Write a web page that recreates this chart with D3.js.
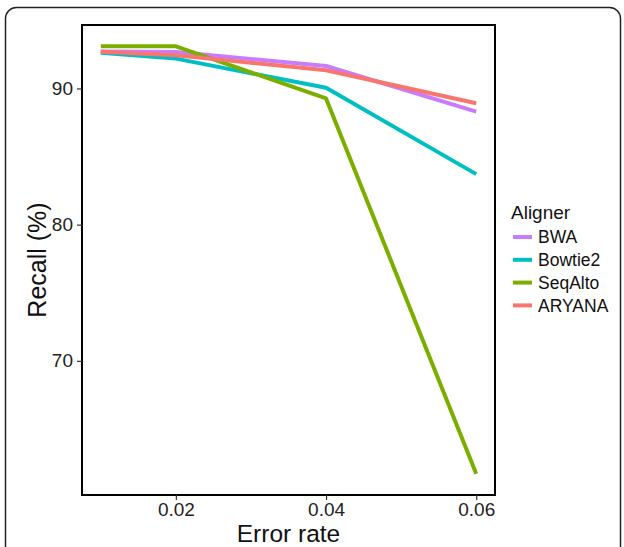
<!DOCTYPE html>
<meta charset="utf-8">
<style>
  body { margin: 0; background: #fff; }
  text { font-family: "Liberation Sans", Arial, sans-serif; }
</style>
<svg width="624" height="547"></svg>
<script src="https://cdn.jsdelivr.net/npm/d3@7"></script>
<script>
    // data
    var errorRates = [0.01, 0.02, 0.04, 0.06];
    var aligners = ['BWA', 'Bowtie2', 'SeqAlto', 'ARYANA'];
    var bwa = [92.72, 92.67, 91.65, 88.30];
    var bowtie2 = [92.62, 92.19, 90.05, 83.71];
    var seqalto = [93.09, 93.09, 89.27, 61.72];
    var aryana = [92.70, 92.43, 91.34, 88.91];
    var colors = ['#C77CFF', '#00BFC4', '#7CAE00', '#F8766D'];
    var xTicks = [0.02, 0.04, 0.06];
    var yTicks = [70, 80, 90];

    var series = [bwa, bowtie2, seqalto, aryana].map(function (v, i) {
        return {
            key: aligners[i],
            values: v.map(function (y, j) { return { x: errorRates[j], y: y }; })
        };
    });

    var svgElem = d3.select('svg');
    var margin = { left: 82, top: 25, right: 129, bottom: 52 };
    var width = +svgElem.attr('width') - margin.left - margin.right;
    var height = +svgElem.attr('height') - margin.top - margin.bottom;

    // outer rounded frame
    svgElem.append('rect')
        .attr('x', 5.5).attr('y', 7.5)
        .attr('width', 615).attr('height', 560)
        .attr('rx', 11)
        .attr('fill', 'none')
        .attr('stroke', '#222')
        .attr('stroke-width', 1.5);

    var g = svgElem.append('g')
        .attr('transform', `translate(${margin.left}, ${margin.top})`);

    // ggplot style 5% expansion
    function expand(ext) {
        var d = (ext[1] - ext[0]) * 0.05;
        return [ext[0] - d, ext[1] + d];
    }
    var allY = [].concat(bwa, bowtie2, seqalto, aryana);
    var x = d3.scaleLinear().domain(expand(d3.extent(errorRates))).range([0, width]);
    var y = d3.scaleLinear().domain(expand(d3.extent(allY))).range([height, 0]);
    var z = d3.scaleOrdinal().domain(aligners).range(colors);

    var line = d3.line()
        .x(function (d) { return x(d.x); })
        .y(function (d) { return y(d.y); });

    g.selectAll('.line')
        .data(series)
        .enter()
        .append('path')
        .attr('class', 'line')
        .attr('fill', 'none')
        .attr('stroke', function (d) { return z(d.key); })
        .attr('stroke-width', 4)
        .attr('stroke-linejoin', 'round')
        .attr('d', function (d) { return line(d.values); });

    // panel border
    g.append('rect')
        .attr('width', width).attr('height', height)
        .attr('fill', 'none')
        .attr('stroke', '#000')
        .attr('stroke-width', 2);

    var xAxis = g.append('g')
        .attr('transform', `translate(0, ${height})`)
        .call(d3.axisBottom(x).tickValues(xTicks).tickSize(5).tickPadding(3).tickFormat(d3.format('.2f')));
    var yAxis = g.append('g')
        .call(d3.axisLeft(y).tickValues(yTicks).tickSize(5).tickPadding(4));
    [xAxis, yAxis].forEach(function (a) {
        a.select('.domain').remove();
        a.selectAll('line').attr('stroke', '#333').attr('stroke-width', 1.2);
        a.selectAll('text')
            .attr('fill', '#222')
            .style('font-size', '19px')
            .style('font-family', '"Liberation Sans", Arial, sans-serif');
    });

    // axis titles
    svgElem.append('text')
        .attr('x', margin.left + width / 2)
        .attr('y', 541.5)
        .attr('text-anchor', 'middle')
        .style('font-size', '24.5px')
        .attr('fill', '#111')
        .text('Error rate');
    svgElem.append('text')
        .attr('transform', `translate(46, ${margin.top + height / 2}) rotate(-90)`)
        .attr('text-anchor', 'middle')
        .style('font-size', '25px')
        .attr('fill', '#111')
        .text('Recall (%)');

    // legend
    var legend = svgElem.append('g').attr('transform', 'translate(511, 0)');
    legend.append('text')
        .attr('x', 0).attr('y', 219)
        .style('font-size', '19px')
        .attr('fill', '#111')
        .text('Aligner');
    var items = legend.selectAll('.item')
        .data(aligners)
        .enter()
        .append('g')
        .attr('class', 'item')
        .attr('transform', function (d, i) { return `translate(0, ${237 + i * 22.8})`; });
    items.append('line')
        .attr('x1', 2).attr('x2', 21)
        .attr('stroke', function (d) { return z(d); })
        .attr('stroke-width', 4);
    items.append('text')
        .attr('x', 27).attr('dy', '0.36em')
        .style('font-size', '17.5px')
        .attr('fill', '#111')
        .text(function (d) { return d; });
</script>
